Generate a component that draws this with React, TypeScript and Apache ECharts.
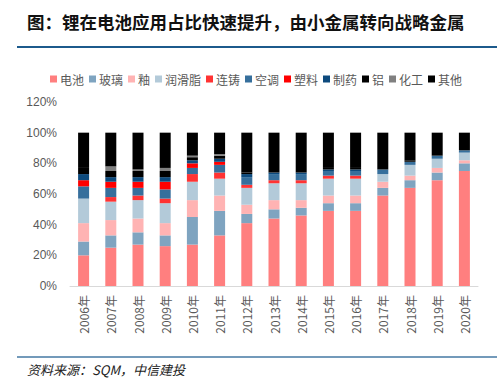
import React, { useEffect, useRef } from "react";
import * as echarts from "echarts";

const years = ["2006年", "2007年", "2008年", "2009年", "2010年", "2011年", "2012年", "2013年", "2014年", "2015年", "2016年", "2017年", "2018年", "2019年", "2020年"];

const battery = [20, 25, 27, 26, 27, 33, 41, 44, 46, 49, 49, 59, 64, 69, 75];
const glass = [9, 8, 8, 7, 18, 16, 6, 6, 5, 5, 5, 5, 5, 5, 5];
const ceramic = [12, 10, 9, 8, 11, 10, 6, 6, 5, 5, 5, 4, 3, 3, 2];
const grease = [16, 12, 12, 13, 12, 11, 11, 11, 11, 11, 11, 5, 7, 6, 5];
const casting = [0, 3, 3, 3, 5, 4, 2, 2, 2, 2, 2, 0, 0, 0, 0];
const aircon = [8, 6, 5, 6, 4, 5, 5, 4, 4, 3, 3, 3, 2, 2, 1.5];
const plastic = [4, 4, 4, 5, 3, 2, 0, 0, 0, 0, 0, 0, 0, 0, 0];
const pharma = [4, 3, 3, 3, 2, 2, 2, 1, 1, 1, 1, 0, 0, 0, 0];
const aluminum = [4, 4, 4, 4, 2, 2, 1, 1, 1, 1, 1, 0, 1, 0, 0];
const chemical = [0, 3, 1, 2, 1, 1, 0, 0, 0, 0, 0, 0, 0, 0, 0];
const other = [23, 22, 24, 23, 15, 14, 26, 25, 25, 23, 23, 24, 18, 15, 11.5];

const seriesNames = ["电池", "玻璃", "釉", "润滑脂", "连铸", "空调", "塑料", "制药", "铝", "化工", "其他"];
const seriesData = [battery, glass, ceramic, grease, casting, aircon, plastic, pharma, aluminum, chemical, other];
const seriesColors = ["#FF7F7F", "#7FA4C0", "#FFB3B3", "#B3CAD9", "#FF3333", "#366F9C", "#FF0000", "#0D4A7D", "#000000", "#808080", "#000000"];

const yTicks = ["0%", "20%", "40%", "60%", "80%", "100%", "120%"];

const TITLE = "图：锂在电池应用占比快速提升，由小金属转向战略金属";
const SOURCE = "资料来源：SQM，中信建投";

const CJK = '"Noto Sans CJK SC", "Liberation Sans", sans-serif';
const LATIN = '"Liberation Sans", Arial, sans-serif';

export default function App() {
  const ref = useRef<HTMLDivElement>(null);
  useEffect(() => {
    if (!ref.current) return;
    const chart = echarts.init(ref.current, null, { renderer: "svg" });
    chart.setOption({
      animation: false,
      backgroundColor: "#ffffff",
      title: {
        text: TITLE,
        left: 22,
        top: 8,
        textStyle: { fontSize: 17.5, fontWeight: "bold", color: "#111", fontFamily: CJK },
      },
      legend: {
        data: seriesNames,
        left: 45,
        top: 68,
        itemWidth: 7,
        itemHeight: 7,
        itemGap: 5,
        icon: "rect",
        textStyle: { fontSize: 12, color: "#595959", fontFamily: CJK, padding: [0, 0, 0, -2] },
      },
      grid: { left: 70, right: 19, top: 102, bottom: 97, containLabel: false },
      xAxis: {
        type: "category",
        data: years,
        axisLine: { show: true, lineStyle: { color: "#D9D9D9", width: 1 } },
        axisTick: { show: false },
        axisLabel: { rotate: 90, fontSize: 12, color: "#595959", fontFamily: CJK, margin: 9, interval: 0 },
      },
      yAxis: {
        type: "value",
        min: 0,
        max: 120,
        interval: 20,
        axisLine: { show: false },
        axisTick: { show: false },
        splitLine: { show: false },
        axisLabel: {
          fontSize: 12,
          color: "#595959",
          fontFamily: LATIN,
          margin: 13,
          formatter: (v: number) => yTicks[Math.round(v / 20)] ?? v + "%",
        },
      },
      series: seriesNames.map((name, i) => ({
        name,
        type: "bar",
        stack: "total",
        barWidth: 11,
        data: seriesData[i],
        itemStyle: { color: seriesColors[i] },
      })),
      graphic: [
        {
          type: "line",
          shape: { x1: 17, y1: 47, x2: 497, y2: 47 },
          style: { stroke: "#1C5A8C", lineWidth: 2 },
        },
        {
          type: "line",
          shape: { x1: 17, y1: 357, x2: 497, y2: 357 },
          style: { stroke: "#4479A3", lineWidth: 1.5 },
        },
        {
          type: "text",
          left: 27,
          top: 363,
          style: { text: SOURCE, fontSize: 13, fontStyle: "italic", fill: "#222", fontFamily: CJK },
        },
      ],
    });
    return () => chart.dispose();
  }, []);
  return <div ref={ref} style={{ position: "fixed", left: 0, top: 0, width: 497, height: 383 }} />;
}
